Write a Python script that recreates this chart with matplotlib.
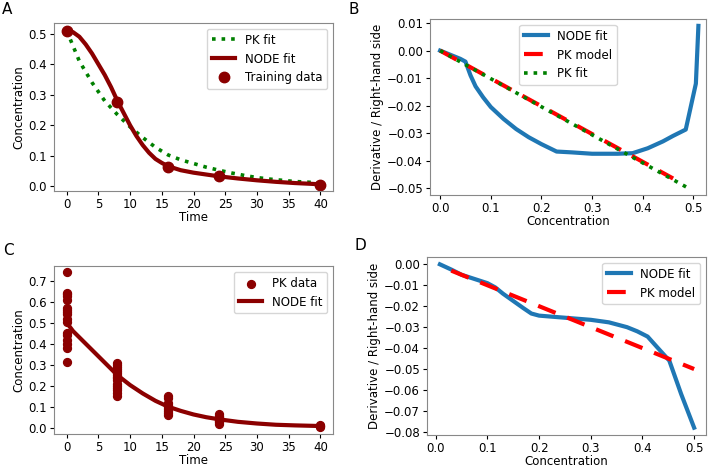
import matplotlib
matplotlib.use("Agg")
import matplotlib.pyplot as plt
import numpy as np

plt.rcParams['font.family'] = ['DejaVu Sans']
plt.rcParams['font.size'] = 8.5
plt.rcParams['xtick.major.pad'] = 2
plt.rcParams['ytick.major.pad'] = 2
plt.rcParams['xtick.major.size'] = 3
plt.rcParams['ytick.major.size'] = 3

# Panel A
a_train_t = [0, 8, 16, 24, 40]
a_train_c = [0.51, 0.275, 0.063, 0.033, 0.005]
a_node_t = [0, 1, 2, 3, 4, 5, 6, 7, 8, 9, 10, 11, 12, 13, 14, 15, 16, 18, 20, 22, 24, 27, 30, 33, 36, 40]
a_node_c = [0.51, 0.505, 0.49, 0.465, 0.435, 0.40, 0.365, 0.325, 0.28, 0.24, 0.20, 0.165, 0.135, 0.11, 0.09, 0.077, 0.066, 0.053, 0.045, 0.039, 0.033, 0.026, 0.02, 0.015, 0.011, 0.007]
a_pk_t = [0, 2, 4, 6, 8, 10, 12, 14, 16, 18, 20, 22, 24, 26, 28, 30, 32, 34, 36, 38, 40]
a_pk_c = [0.51, 0.41, 0.34, 0.28, 0.235, 0.195, 0.16, 0.128, 0.103, 0.087, 0.075, 0.063, 0.053, 0.044, 0.036, 0.029, 0.024, 0.02, 0.016, 0.014, 0.011]

# Panel B
b_node_x = [0.0, 0.02, 0.04, 0.05, 0.06, 0.07, 0.085, 0.1, 0.125, 0.15, 0.175, 0.2, 0.23, 0.26, 0.3, 0.35, 0.38, 0.41, 0.44, 0.46, 0.485, 0.505, 0.51]
b_node_y = [0.0, -0.0015, -0.003, -0.004, -0.009, -0.013, -0.017, -0.0205, -0.0248, -0.0285, -0.0315, -0.0340, -0.0367, -0.0370, -0.0375, -0.0375, -0.0373, -0.0355, -0.0330, -0.031, -0.0287, -0.012, 0.009]
b_pkm_x = [0.0, 0.46]
b_pkm_y = [0.0, -0.0465]
b_pkf_x = [0.0, 0.49]
b_pkf_y = [0.0, -0.0500]

# Panel C
c_t0 = [0.74, 0.64, 0.635, 0.625, 0.61, 0.57, 0.56, 0.55, 0.54, 0.52, 0.505, 0.45, 0.44, 0.42, 0.40, 0.38, 0.315]
c_t8 = [0.31, 0.30, 0.29, 0.28, 0.27, 0.26, 0.25, 0.24, 0.235, 0.225, 0.21, 0.20, 0.19, 0.18, 0.165, 0.15]
c_t16 = [0.15, 0.14, 0.12, 0.11, 0.10, 0.09, 0.08, 0.07, 0.06]
c_t24 = [0.065, 0.055, 0.05, 0.045, 0.04, 0.035, 0.03, 0.025, 0.02]
c_t40 = [0.012, 0.009, 0.006, 0.004]
c_node_t = [0, 1, 2, 3, 4, 5, 6, 7, 8, 10, 12, 14, 16, 18, 20, 22, 24, 27, 30, 33, 36, 40]
c_node_c = [0.50, 0.46, 0.43, 0.40, 0.37, 0.34, 0.31, 0.28, 0.25, 0.203, 0.163, 0.128, 0.10, 0.08, 0.063, 0.05, 0.04, 0.028, 0.02, 0.014, 0.011, 0.008]

# Panel D
d_node_x = [0.008, 0.03, 0.05, 0.075, 0.1, 0.115, 0.13, 0.15, 0.17, 0.185, 0.2, 0.25, 0.3, 0.335, 0.37, 0.39, 0.41, 0.43, 0.452, 0.475, 0.5]
d_node_y = [0.0, -0.0025, -0.005, -0.007, -0.009, -0.011, -0.014, -0.0175, -0.021, -0.0235, -0.0245, -0.0255, -0.0265, -0.0277, -0.030, -0.032, -0.0345, -0.040, -0.046, -0.062, -0.078]
d_pk_x = [0.03, 0.5]
d_pk_y = [-0.003, -0.050]

fig = plt.figure(figsize=(7.08, 4.67), dpi=100)
W, H = 708, 467

def add_ax(l, t, r, b):
    return fig.add_axes([l / W, 1 - b / H, (r - l) / W, (b - t) / H])

def fmt2(v, p):
    if abs(v) < 1e-9:
        return "0.00"
    return f"{v:.2f}".replace('-', '\u2212')

darkred = '#8b0000'
blue = '#1f77b4'

# A
ax = add_ax(54, 23, 333, 191)
ax.plot(a_pk_t, a_pk_c, ':', color='green', lw=2.6, label='PK fit')
ax.plot(a_node_t, a_node_c, '-', color=darkred, lw=3, label='NODE fit')
ax.plot(a_train_t, a_train_c, 'o', color=darkred, ms=7.5, label='Training data')
ax.set_xlim(-2, 42)
ax.set_ylim(-0.015, 0.535)
ax.set_xticks(range(0, 41, 5))
ax.set_yticks([0.0, 0.1, 0.2, 0.3, 0.4, 0.5])
ax.set_xlabel('Time', labelpad=0)
ax.set_ylabel('Concentration', labelpad=2)
ax.legend(loc='upper right')

# B
ax = add_ax(430, 19, 706, 195)
ax.plot(b_node_x, b_node_y, '-', color=blue, lw=3, label='NODE fit')
ax.plot(b_pkm_x, b_pkm_y, '--', color='red', lw=3, dashes=(4.5, 3), label='PK model')
ax.plot(b_pkf_x, b_pkf_y, ':', color='green', lw=2.6, label='PK fit')
ax.set_xlim(-0.02, 0.525)
ax.set_ylim(-0.0525, 0.0115)
ax.set_xticks([0.0, 0.1, 0.2, 0.3, 0.4, 0.5])
ax.set_yticks([0.01, 0.0, -0.01, -0.02, -0.03, -0.04, -0.05])
ax.yaxis.set_major_formatter(matplotlib.ticker.FuncFormatter(fmt2))
ax.set_xlabel('Concentration', labelpad=0)
ax.set_ylabel('Derivative / Right-hand side', labelpad=2)
ax.legend(loc='upper center', bbox_to_anchor=(0.5, 1.0))

# C
ax = add_ax(54, 266, 333, 434)
ax.scatter([0] * len(c_t0) + [8] * len(c_t8) + [16] * len(c_t16) + [24] * len(c_t24) + [40] * len(c_t40),
           c_t0 + c_t8 + c_t16 + c_t24 + c_t40, s=32, color=darkred, label='PK data')
ax.plot(c_node_t, c_node_c, '-', color=darkred, lw=3, label='NODE fit')
ax.set_xlim(-2, 42)
ax.set_ylim(-0.03, 0.77)
ax.set_xticks(range(0, 41, 5))
ax.set_yticks([0.0, 0.1, 0.2, 0.3, 0.4, 0.5, 0.6, 0.7])
ax.set_xlabel('Time', labelpad=0)
ax.set_ylabel('Concentration', labelpad=2)
ax.legend(loc='upper right')

# D
ax = add_ax(427, 257, 706, 435)
ax.plot(d_node_x, d_node_y, '-', color=blue, lw=3, label='NODE fit')
ax.plot(d_pk_x, d_pk_y, '--', color='red', lw=3, dashes=(4.5, 3), label='PK model')
ax.set_xlim(-0.017, 0.523)
ax.set_ylim(-0.0815, 0.0035)
ax.set_xticks([0.0, 0.1, 0.2, 0.3, 0.4, 0.5])
ax.set_yticks([0.0, -0.01, -0.02, -0.03, -0.04, -0.05, -0.06, -0.07, -0.08])
ax.yaxis.set_major_formatter(matplotlib.ticker.FuncFormatter(fmt2))
ax.set_xlabel('Concentration', labelpad=0)
ax.set_ylabel('Derivative / Right-hand side', labelpad=2)
ax.legend(loc='upper right')

for ax in fig.axes:
    for s in ax.spines.values():
        s.set_color('#888888')

fig.text(2 / W, 1 - 9 / H, 'A', fontsize=11, va='center', ha='left')
fig.text(349 / W, 1 - 9 / H, 'B', fontsize=11, va='center', ha='left')
fig.text(3 / W, 1 - 251 / H, 'C', fontsize=11, va='center', ha='left')
fig.text(354 / W, 1 - 246 / H, 'D', fontsize=11, va='center', ha='left')

fig.savefig('out.png', dpi=100)
